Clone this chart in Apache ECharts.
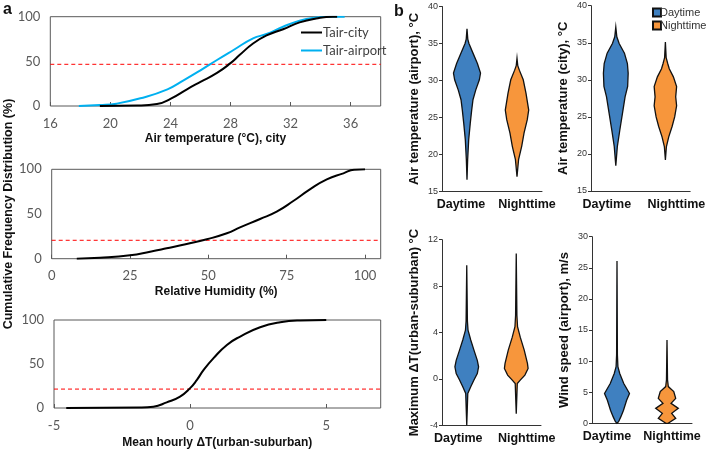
<!DOCTYPE html>
<html><head><meta charset="utf-8">
<script src="https://cdn.jsdelivr.net/npm/echarts/dist/echarts.min.js"></script>
<style>html,body{margin:0;padding:0;background:#fff}#c{width:708px;height:450px}</style>
</head><body><div id="c"></div>
<script>
// ---- Panel a: cumulative frequency distributions ----
const tairCity = [[19.3,0],[21.8,0.5],[23.1,2.2],[24,8],[25.1,18.7],[26,27],[27.1,37],[28,48],[28.6,57],[29.5,70],[30.4,79],[31.5,86],[32.6,93.6],[33.7,98],[34.8,100],[35.1,100]];
const tairAirport = [[17.9,0],[19.3,1],[20.4,2.6],[22,8.6],[23.8,18.7],[24.9,29],[26,40],[27.1,51.5],[28.2,62.7],[29.5,75.8],[30.4,80.6],[31.5,88.8],[32.6,95.5],[33.7,99],[34.6,100],[35.6,100]];
const relHum = [[8,0],[15.4,1],[25,3.8],[31.4,7.8],[36.7,11.6],[43.1,16.4],[49.5,21.7],[55.9,28.4],[60.1,35],[66.5,44.4],[71.8,52.6],[77.1,64.5],[82.4,77.6],[87.8,88.8],[93.1,95.5],[96.5,99.6],[100,100]];
const deltaT = [[-4.55,0],[-1.84,0.5],[-1.35,1.5],[-0.86,6.4],[-0.37,13],[0,22.6],[0.25,32],[0.49,43],[0.86,56.6],[1.35,71.7],[1.84,81.2],[2.57,91.7],[3.31,97.4],[4.04,99.5],[5,100]];
const refLevels = [46.7, 20.6, 21.5];
// axis ranges [min, max, interval] of panel a x axes
const aRanges = [[16,38,4],[0,105,25],[-5,7,5]];

// ---- Panel b: violin profiles [value, relative density] ----
const periods = ['Daytime','Nighttime'];
const airportDay = [[16.6,0],[19.3,0.05],[22,0.13],[24.2,0.25],[26,0.36],[27.4,0.46],[28.7,0.67],[30.1,0.95],[31,1.04],[32.3,0.8],[33.7,0.46],[35,0.15],[35.6,0.06],[37,0]];
const airportNight = [[17,0],[19.3,0.12],[21.1,0.36],[22.9,0.54],[24.7,0.79],[26,0.9],[28.3,0.69],[30.1,0.48],[31.4,0.18],[32,0.06],[33,0]];
const cityDay = [[18.4,0],[21,0.12],[23.2,0.31],[25.5,0.52],[27.7,0.72],[29.1,0.92],[30.9,0.96],[32.2,0.9],[33.6,0.67],[34.9,0.26],[35.8,0.08],[37.1,0]];
const cityNight = [[19.2,0],[21,0.08],[22.3,0.26],[23.7,0.52],[25,0.72],[26.5,0.87],[27.7,0.8],[29.1,0.87],[30.4,0.62],[31.5,0.3],[32.2,0.18],[33,0.06],[35.1,0]];
const dtDay = [[-4,0],[-1.25,0.08],[-0.68,0.31],[-0.1,0.56],[0.46,0.82],[1.04,0.92],[1.6,0.82],[2.48,0.56],[3.35,0.31],[4.2,0.1],[5,0.05],[9.8,0]];
const dtNight = [[-3,0],[-0.4,0.08],[-0.1,0.31],[0.33,0.67],[0.9,0.92],[1.33,0.87],[2.48,0.62],[3.6,0.31],[4.5,0.1],[5.5,0.05],[10.8,0]];
const windDay = [[0,0],[0.26,0.12],[1.07,0.3],[2.1,0.5],[3.7,0.74],[4.8,0.96],[6.4,0.52],[8,0.21],[9.1,0.07],[11,0.03],[26.1,0]];
const windNight = [[0,0.1],[0.1,0.15],[0.8,0.67],[1.6,0.36],[2.4,0.87],[3.2,0.31],[4,0.67],[5.1,0.52],[5.9,0.1],[7,0.04],[13.4,0]];

const BLUE = '#3f80c0', ORANGE = '#f7963c';

function violin(profile){
  return function(params, api){
    const cat = api.value(0);
    const k = api.size([1,0])[0] * 0.26;
    const right = [], left = [];
    profile.forEach(p => {
      const pt = api.coord([cat, p[0]]);
      right.push([pt[0] + p[1]*k, pt[1]]);
      left.push([pt[0] - p[1]*k, pt[1]]);
    });
    return {type:'polygon', shape:{points: right.concat(left.reverse())},
      style:{fill: api.visual('color'), stroke:'#111', lineWidth:1.3}};
  };
}
function violinSeries(gi, ci, profile){
  return {type:'custom', name: periods[ci], xAxisIndex: gi, yAxisIndex: gi,
    itemStyle:{color: ci === 0 ? BLUE : ORANGE, borderColor:'#111', borderWidth:1},
    renderItem: violin(profile), data: [[ci, profile[0][0]]], encode:{x:0, y:1}, silent:true};
}

const AFONT = 'Lato', BFONT = 'Liberation Sans';
function aX(gi, name, gap){
  const r = aRanges[gi];
  return {gridIndex:gi, type:'value', min:r[0], max:r[1], interval:r[2], name, nameLocation:'middle', nameGap:gap,
    nameTextStyle:{fontFamily:BFONT, fontWeight:'bold', fontSize:12, color:'#111'},
    axisLine:{show:false}, axisTick:{show:true, inside:true, length:4, lineStyle:{color:'#595959'}},
    axisLabel:{color:'#595959', fontSize:13, fontFamily:AFONT, margin:11, showMaxLabel:false},
    splitLine:{show:false}};
}
function aY(gi, name){
  const o = {gridIndex:gi, type:'value', min:0, max:100, interval:50,
    axisLine:{show:false}, axisTick:{show:false},
    axisLabel:{color:'#595959', fontSize:13, fontFamily:AFONT, margin:10}, splitLine:{show:false}};
  if (name) Object.assign(o, {name, nameLocation:'middle', nameGap:34, nameRotate:90,
    nameTextStyle:{fontFamily:BFONT, fontWeight:'bold', fontSize:12.5, color:'#111'}});
  return o;
}
const catLabelStyle = {fontFamily:BFONT, fontWeight:'bold', fontSize:12.5, color:'#111'};
function bX(gi, dShift, nShift){
  return {gridIndex:gi, type:'category', data:periods,
    axisLine:{onZero:false, lineStyle:{color:'#333'}}, axisTick:{alignWithLabel:true, length:3, lineStyle:{color:'#333'}},
    axisLabel:{interval:0, margin:7, fontFamily:BFONT, fontWeight:'bold', fontSize:12.5, color:'#111',
      formatter:(v, i) => (i === 0 ? '{d|' : '{n|') + v + '}',
      rich:{
        d:Object.assign({padding:[0, 2*dShift, 0, 0]}, catLabelStyle),
        n:Object.assign({padding:[0, 0, 0, 2*nShift]}, catLabelStyle)
      }}};
}
function bY(gi, min, max, interval, name){
  return {gridIndex:gi, type:'value', min, max, interval, name, nameLocation:'middle', nameGap:21, nameRotate:90,
    nameTextStyle:{fontFamily:BFONT, fontWeight:'bold', fontSize:13, color:'#111'},
    axisLine:{show:true, onZero:false, lineStyle:{color:'#333'}}, axisTick:{show:true, length:3, lineStyle:{color:'#333'}},
    axisLabel:{fontFamily:BFONT, fontSize:9, color:'#333', margin:4}, splitLine:{show:false}};
}
function refSeries(gi){
  const r = aRanges[gi], v = refLevels[gi];
  return {type:'line', name:'ref'+gi, xAxisIndex:gi, yAxisIndex:gi, data:[[r[0], v],[r[1], v]], symbol:'none',
    silent:true, z:1, lineStyle:{color:'#ff0000', type:[4,3], width:1}, itemStyle:{color:'#ff0000'}};
}
const gridA = {show:true, borderColor:'#595959', borderWidth:1};

const chart = echarts.init(document.getElementById('c'), null, {renderer:'canvas'});
chart.setOption({
  animation:false,
  backgroundColor:'#fff',
  grid:[
    Object.assign({left:50.3, top:16.7, width:330.4, height:89.3}, gridA),
    Object.assign({left:51.7, top:169.3, width:329, height:89.4}, gridA),
    Object.assign({left:54, top:320, width:326.7, height:88.3}, gridA),
    {left:442, top:6.5, width:100, height:185},
    {left:591, top:5.7, width:100, height:185.3},
    {left:442, top:239.7, width:99, height:185.6},
    {left:592, top:236.7, width:100, height:186.6}
  ],
  xAxis:[
    aX(0, 'Air temperature (°C), city', 27),
    aX(1, 'Relative Humidity (%)', 27),
    aX(2, 'Mean hourly ΔT(urban-suburban)', 29),
    bX(3, 6, 10), bX(4, 9, 11), bX(5, 8.5, 10.5), bX(6, 10, 5)
  ],
  yAxis:[
    aY(0), aY(1, 'Cumulative Frequency Distribution (%)'), aY(2),
    bY(3, 15, 40, 5, 'Air temperature (airport), °C'),
    bY(4, 15, 40, 5, 'Air temperature (city), °C'),
    bY(5, -4, 12, 4, 'Maximum ΔT(urban-suburban) °C'),
    bY(6, 0, 30, 5, 'Wind speed (airport), m/s')
  ],
  legend:[
    {data:['Tair-city','Tair-airport'], left:296, top:21, orient:'vertical', icon:'rect', itemWidth:21, itemHeight:2, itemGap:5,
     textStyle:{fontFamily:AFONT, fontSize:13, color:'#404040', padding:[0,0,0,-4]}, selectedMode:false},
    {data:periods, left:647, top:2, orient:'vertical', icon:'rect', itemWidth:8, itemHeight:8, itemGap:2,
     textStyle:{fontFamily:BFONT, fontSize:11, color:'#333', padding:[0,0,0,-6]}, selectedMode:false}
  ],
  graphic:[
    {type:'text', left:3, top:2, style:{text:'a', font:'bold 16px "Liberation Sans"', fill:'#111'}},
    {type:'text', left:394, top:4, style:{text:'b', font:'bold 16px "Liberation Sans"', fill:'#111'}}
  ],
  series:[
    refSeries(0), refSeries(1), refSeries(2),
    {type:'line', name:'Tair-airport', xAxisIndex:0, yAxisIndex:0, data:tairAirport, symbol:'none', smooth:true,
     lineStyle:{color:'#00b0f0', width:2}, itemStyle:{color:'#00b0f0'}},
    {type:'line', name:'Tair-city', xAxisIndex:0, yAxisIndex:0, data:tairCity, symbol:'none', smooth:true,
     lineStyle:{color:'#000', width:2}, itemStyle:{color:'#000'}},
    {type:'line', name:'RH', xAxisIndex:1, yAxisIndex:1, data:relHum, symbol:'none', smooth:true,
     lineStyle:{color:'#000', width:2}, itemStyle:{color:'#000'}},
    {type:'line', name:'dT', xAxisIndex:2, yAxisIndex:2, data:deltaT, symbol:'none', smooth:true,
     lineStyle:{color:'#000', width:2}, itemStyle:{color:'#000'}},
    violinSeries(3, 0, airportDay), violinSeries(3, 1, airportNight),
    violinSeries(4, 0, cityDay), violinSeries(4, 1, cityNight),
    violinSeries(5, 0, dtDay), violinSeries(5, 1, dtNight),
    violinSeries(6, 0, windDay), violinSeries(6, 1, windNight)
  ]
});
</script></body></html>
